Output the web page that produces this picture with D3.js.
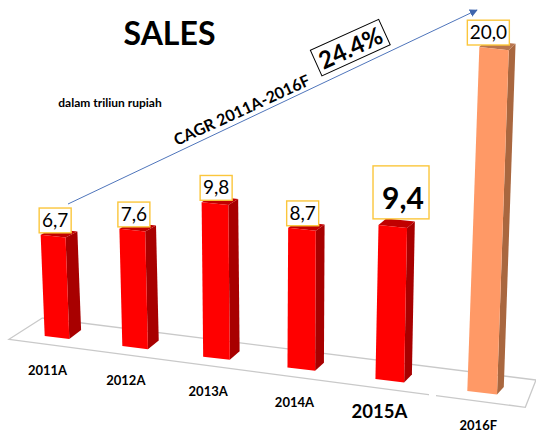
<!DOCTYPE html>
<html><head><meta charset="utf-8">
<script src="https://cdn.jsdelivr.net/npm/d3@7/dist/d3.min.js"></script>
<style>html,body{margin:0;padding:0;background:#fff}svg{display:block}text{font-family:Lato,"Open Sans",sans-serif;fill:#000}</style>
</head><body><svg id="c" width="536" height="432"></svg>
<script>
const categories = ["2011A","2012A","2013A","2014A","2015A","2016F"];
const salesValues = [6.7,7.6,9.8,8.7,9.4,20.0];
const valueLabels = ["6,7","7,6","9,8","8,7","9,4","20,0"];
const highlighted = "2015A";
const forecast = "2016F";

const svg = d3.select("#c");
const idx = d3.scaleLinear().domain([0,5]);
// perspective along the ground
const persp = i => i/(1-0.02*i);
const groundX = d3.scaleLinear().domain([0,persp(5)]).range([44.7,467.3]);
const groundY = d3.scaleLinear().domain([0,persp(5)]).range([336,391]);
const frontW = idx.copy().range([24.6,29.7]);
const unitH = d3.scaleLinear().domain([0,4,5]).range([15.1,16.4,17.2]);
const lean = idx.copy().range([-0.04,0.035]);
const depthX = idx.copy().range([11.8,6.8]);
const depthYBase = idx.copy().range([-9,-7.6]);
const depthYTop = idx.copy().range([-6,-6.4]);
const slope = 0.118;

// floor
const floorStroke = "#c9c9c9";
svg.append("path").attr("d","M42.3,318L536,380").attr("fill","none").attr("stroke",floorStroke).attr("stroke-width",1.3);
svg.append("path").attr("d","M536,380L525.3,407.3L9,339.3L42.3,318").attr("fill","none").attr("stroke",floorStroke).attr("stroke-width",1.3);
svg.append("rect").attr("x",429).attr("y",389).attr("width",7).attr("height",11).attr("fill","#fff");

// arrow
svg.append("defs").append("marker").attr("id","ah").attr("markerUnits","userSpaceOnUse")
  .attr("viewBox","0 0 10 10").attr("refX",9).attr("refY",5).attr("markerWidth",8).attr("markerHeight",8).attr("orient","auto")
  .append("path").attr("d","M0,0L10,5L0,10Z").attr("fill","#3f65ad");
svg.append("line").attr("x1",68).attr("y1",204).attr("x2",477).attr("y2",10)
  .attr("stroke","#4f75bb").attr("stroke-width",1).attr("marker-end","url(#ah)");

const geom = categories.map((c,i)=>{
  const bx = groundX(persp(i)), by = groundY(persp(i));
  const w = frontW(i), h = salesValues[i]*unitH(i), l = lean(i)*h;
  const BL=[bx,by], BR=[bx+w,by+w*slope], TL=[bx+l,by-h], TR=[bx+l+w+1.0*(-lean(i))*8,by-h+w*slope*0.9];
  const dxt=depthX(i), dyt=depthYTop(i), dxb=depthX(i), dyb=depthYBase(i);
  return {c,i,BL,BR,TL,TR,
    BBR:[BR[0]+dxb,BR[1]+dyb], TBR:[TR[0]+dxt,TR[1]+dyt], TBL:[TL[0]+dxt,TL[1]+dyt]};
});
const poly = a => a.map(p=>p.join(",")).join(" ");

const bars = svg.selectAll("g.bar").data(geom).join("g").attr("class","bar");
const fill = d => d.c===forecast ? ["#FF9966","#A9673F","#B8754E"] : ["#FF0000","#A80000","#C00000"];
bars.append("polygon").attr("points",d=>poly([d.TR,d.TBR,d.BBR,d.BR])).attr("fill",d=>fill(d)[1]);
bars.append("polygon").attr("points",d=>poly([d.TL,d.TBL,d.TBR,d.TR])).attr("fill",d=>fill(d)[2]);
bars.append("polygon").attr("points",d=>poly([d.TL,d.TR,d.BR,d.BL])).attr("fill",d=>fill(d)[0]);

// value boxes
const boxes = svg.selectAll("g.box").data(geom).join("g").attr("class","box");
const bw = d => d.c===highlighted?56:(d.c===forecast?42:32);
const bh = d => d.c===highlighted?53:24.8;
const bxL = d => d.TL[0] + (d.c===highlighted?-5.5:(d.c===forecast?-12:-1.5));
const bxB = d => d.TL[1] - (d.c===highlighted?6:2);
boxes.append("rect").attr("x",bxL).attr("y",d=>bxB(d)-bh(d)).attr("width",bw).attr("height",bh)
  .attr("fill","#fff").attr("stroke","#FBC63C").attr("stroke-width",1.4);
boxes.append("text").attr("x",d=>bxL(d)+bw(d)/2+(d.c===highlighted?2:0)).attr("y",d=>bxB(d)-(d.c===highlighted?10:6))
  .attr("text-anchor","middle").attr("font-size",d=>d.c===highlighted?30:19)
  .attr("font-weight",d=>d.c===highlighted?700:400)
  .text(d=>valueLabels[d.i]);

// category labels
const labelNudge = [2.8,3.5,5,7,4,11];
svg.selectAll("text.cat").data(geom).join("text").attr("class","cat")
  .attr("x",d=>d.BL[0]+labelNudge[d.i]).attr("y",d=>d.BL[1]+39)
  .attr("text-anchor","middle").attr("font-weight",700)
  .attr("font-size",d=>d.c===highlighted?18.5:13).text(d=>d.c);

// titles
svg.append("text").attr("x",169.5).attr("y",44.5).attr("text-anchor","middle").attr("font-size",32).attr("font-weight",700).text("SALES");
svg.append("text").attr("x",110).attr("y",107).attr("text-anchor","middle").attr("font-size",12).attr("font-weight",700).text("dalam triliun rupiah");
svg.append("text").attr("transform","translate(177,146) rotate(-24.6)").attr("font-size",16).attr("font-weight",700).text("CAGR 2011A-2016F");
const cg = svg.append("g").attr("transform","translate(350.3,47.6) rotate(-24.4)");
cg.append("rect").attr("x",-37.5).attr("y",-14).attr("width",75).attr("height",28).attr("fill","#fff").attr("stroke","#000").attr("stroke-width",1);
cg.append("text").attr("y",9).attr("text-anchor","middle").attr("font-size",24).attr("font-weight",700).text("24.4%");
</script></body></html>
